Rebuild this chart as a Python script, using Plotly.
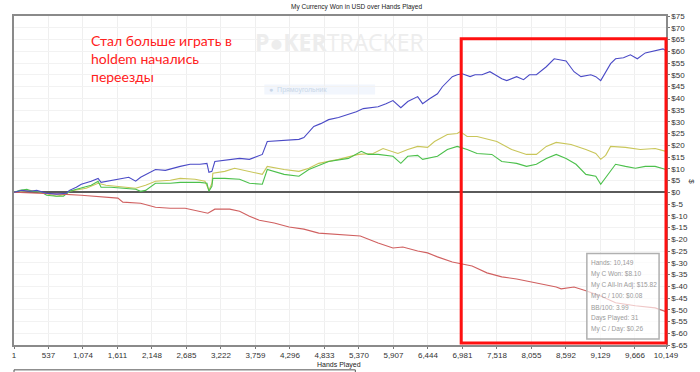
import plotly.graph_objects as go

# ---------------- data ----------------
blue_hands = [1, 124, 247, 355, 509, 663, 817, 863, 971, 1048, 1202, 1310, 1356, 1510, 1664, 1787, 1895, 1972,
              2203, 2357, 2588, 2742, 2896, 3004, 3035, 3081, 3127, 3358, 3512, 3666, 3866, 3943, 4128, 4436,
              4513, 4667, 4775, 4898, 5052, 5206, 5329, 5437, 5668, 5791, 5899, 6022, 6130, 6284, 6361, 6469,
              6592, 6669, 6746, 6823, 6900, 6977, 7100, 7177, 7285, 7408, 7516, 7593, 7670, 7824, 7932, 8024,
              8132, 8286, 8409, 8517, 8594, 8717, 8825, 8979, 9056, 9133, 9210, 9287, 9364, 9487, 9595, 9703,
              9826, 9980, 10103, 10149]
blue_won = [0, 0.8, 0.4, 0.8, -0.4, -0.8, -0.4, 0.8, 2.1, 3.4, 4.7, 5.9, 4.2, 5.1, 5.9, 6.4, 4.7, 6.4,
            9.7, 9.3, 11.0, 11.9, 11.9, 12.3, 8.5, 8.9, 13.1, 14.0, 14.4, 14.0, 16.1, 21.6, 22.0, 22.5,
            23.3, 28.0, 29.2, 30.9, 31.8, 33.1, 34.3, 35.6, 36.4, 37.7, 39.0, 36.0, 38.6, 40.7, 37.7, 39.8,
            41.9, 44.9, 47.0, 49.2, 50.0, 50.4, 49.2, 50.0, 50.0, 51.3, 49.6, 48.3, 47.5, 49.2, 47.9, 50.0,
            50.0, 53.4, 56.8, 56.4, 55.9, 51.3, 49.2, 50.0, 49.2, 47.5, 51.3, 54.7, 56.8, 57.2, 58.5, 56.8,
            59.3, 60.2, 61.0, 60.2]

yellow_hands = [1, 124, 247, 355, 509, 663, 817, 863, 1125, 1310, 1433, 1664, 1895, 2049, 2203, 2434, 2588,
                2819, 2973, 3035, 3081, 3096, 3281, 3435, 3666, 3866, 3943, 4205, 4436, 4590, 4744, 5052,
                5360, 5591, 5745, 5899, 5976, 6130, 6284, 6438, 6546, 6746, 6900, 6946, 7054, 7208, 7362,
                7516, 7747, 7978, 8132, 8286, 8440, 8671, 8902, 9056, 9133, 9210, 9287, 9518, 9749, 9980, 10149]
yellow_won = [0, 0.4, 0.8, 0.4, -0.8, -1.7, -0.8, 0.4, 1.7, 3.8, 3.0, 2.5, 1.7, 3.0, 4.7, 5.1, 5.9,
              5.5, 4.7, 0.8, 3.8, 8.1, 8.9, 10.2, 8.9, 7.6, 11.0, 9.7, 8.9, 10.2, 12.3, 14.0,
              16.1, 16.5, 18.6, 17.4, 16.5, 18.2, 19.5, 19.1, 21.6, 24.6, 25.0, 25.8, 23.7, 23.7, 22.5,
              21.6, 18.2, 16.1, 16.1, 19.5, 21.2, 20.3, 18.2, 16.5, 14.0, 15.7, 19.5, 19.1, 18.2, 18.6, 17.4]

green_hands = [1, 93, 201, 278, 432, 509, 663, 771, 863, 1048, 1202, 1310, 1356, 1510, 1664, 1895, 1972,
               2049, 2203, 2434, 2588, 2896, 3004, 3035, 3081, 3096, 3281, 3512, 3666, 3866, 3943, 4205,
               4436, 4590, 4898, 5206, 5406, 5514, 5668, 5899, 6022, 6130, 6284, 6361, 6592, 6746, 6900,
               6946, 7054, 7208, 7439, 7593, 7824, 7978, 8132, 8286, 8440, 8594, 8748, 8902, 9056, 9133,
               9287, 9364, 9518, 9672, 9826, 9980, 10149]
green_won = [0, 0.8, 1.3, 0.4, 0, -1.3, -1.7, -1.7, 0.4, 1.7, 3.0, 4.7, 2.1, 2.1, 1.7, 1.3, 0.4,
             0.8, 3.8, 3.8, 4.2, 4.2, 3.8, 0.4, 2.5, 5.9, 5.9, 5.5, 3.8, 3.4, 9.7, 7.6,
             6.8, 9.7, 13.1, 14.4, 17.4, 16.1, 16.1, 15.3, 12.3, 15.3, 15.7, 14.0, 15.3, 18.2, 19.5,
             19.1, 18.2, 16.5, 16.1, 13.1, 12.3, 11.0, 11.9, 14.4, 16.1, 14.4, 11.9, 7.6, 6.8, 3.4,
             8.9, 11.9, 11.0, 10.2, 11.0, 11.0, 9.7]

red_hands = [1, 432, 740, 1048, 1356, 1618, 1695, 1972, 2203, 2434, 2665, 2896, 3019, 3127, 3358, 3512,
             3666, 3820, 4051, 4282, 4513, 4744, 4975, 5206, 5391, 5668, 5899, 6053, 6284, 6438, 6592,
             6823, 6962, 7131, 7362, 7593, 7824, 8132, 8440, 8517, 8717, 8902, 9133, 9364, 9672, 9980, 10149]
red_won = [0, -0.4, -0.8, -1.3, -2.1, -2.5, -4.2, -4.7, -6.4, -6.8, -6.8, -8.1, -8.9, -7.2, -7.2, -8.1,
           -10.2, -11.9, -13.1, -14.8, -15.7, -17.4, -17.8, -18.2, -18.6, -21.6, -23.7, -23.3, -25.0, -25.8, -27.5,
           -29.7, -30.5, -31.4, -34.3, -36.0, -36.9, -38.6, -40.3, -41.1, -40.3, -41.9, -44.1, -47.0, -48.3, -49.2, -50.8]

x_tick_vals = [1, 537, 1074, 1611, 2148, 2685, 3222, 3759, 4296, 4833, 5370, 5907, 6444, 6981,
               7518, 8055, 8592, 9129, 9666, 10149]
x_tick_text = ["1", "537", "1,074", "1,611", "2,148", "2,685", "3,222", "3,759", "4,296", "4,833",
               "5,370", "5,907", "6,444", "6,981", "7,518", "8,055", "8,592", "9,129", "9,666", "10,149"]
y_tick_vals = list(range(-65, 80, 5))
y_tick_text = ["$" + str(v) for v in y_tick_vals]

stats_lines = ["Hands: 10,149", "My C Won: $8.10", "My C All-In Adj: $15.82", "My C / 100: $0.08",
               "BB/100: 3.99", "Days Played: 31", "My C / Day: $0.26"]
note_text = "Стал больше играть в<br>holdem начались<br>переезды"

# ---------------- layout helpers ----------------
W, H = 700, 372
L, R, T, B = 12, 29, 14, 27
PW, PH = W - L - R, H - T - B


def px(xp):
    return (xp - L) / PW


def py(yp):
    return (H - B - yp) / PH


fig = go.Figure()
series = [
    (yellow_hands, yellow_won, "#c9c65a"),
    (green_hands, green_won, "#4cc04c"),
    (red_hands, red_won, "#d06060"),
    (blue_hands, blue_won, "#4a4ac6"),
]
for xs, ys, col in series:
    fig.add_trace(go.Scatter(x=xs, y=ys, mode="lines", line=dict(color=col, width=1.1),
                             showlegend=False, hoverinfo="skip"))

fig.update_layout(
    width=W, height=H,
    margin=dict(l=L, r=R, t=T, b=B),
    paper_bgcolor="white", plot_bgcolor="white",
    font=dict(family="Liberation Sans, Arial, sans-serif", color="#333333", size=8),
    xaxis=dict(range=[1, 10149], tickvals=x_tick_vals, ticktext=x_tick_text,
               showgrid=True, gridcolor="#efefef", gridwidth=1,
               showline=True, linecolor="#8a8a8a", linewidth=1.5, mirror=True,
               ticks="outside", ticklen=2, tickcolor="#777777",
               tickfont=dict(size=8, color="#333333"), zeroline=False),
    yaxis=dict(range=[-65, 75], side="right", tickvals=y_tick_vals, ticktext=y_tick_text,
               showgrid=True, gridcolor="#f2f2f2", gridwidth=1,
               showline=True, linecolor="#8a8a8a", linewidth=1.5, mirror=True,
               ticks="outside", ticklen=2, tickcolor="#777777",
               tickfont=dict(size=8, color="#333333"),
               zeroline=True, zerolinecolor="#5a5a5a", zerolinewidth=1.5),
)

annotations = [
    dict(text="My Currency Won in USD over Hands Played", x=px(358), y=py(5), xref="paper", yref="paper",
         showarrow=False, font=dict(size=6.5, color="#222222"), xanchor="center", yanchor="middle"),
    dict(text="Hands Played", x=px(340), y=py(365), xref="paper", yref="paper",
         showarrow=False, font=dict(size=7, color="#222222"), xanchor="center", yanchor="middle"),
    dict(text="$", x=px(696), y=py(181), xref="paper", yref="paper", textangle=90,
         showarrow=False, font=dict(size=8, color="#333333"), xanchor="center", yanchor="middle"),
    dict(text="<b>P●KER</b>TRACKER", x=px(341), y=py(40), xref="paper", yref="paper",
         showarrow=False, font=dict(size=23, color="#ededed", family="Open Sans, sans-serif"),
         xanchor="center", yanchor="middle"),
    dict(text="●  Прямоугольник", x=px(268), y=py(88), xref="paper", yref="paper",
         showarrow=False, font=dict(size=7, color="#c9d6e8"), xanchor="left", yanchor="middle"),
    dict(text=note_text, x=px(88), y=py(57), xref="paper", yref="paper", align="left",
         showarrow=False, font=dict(size=14, color="#ff2020", family="Lato, sans-serif"),
         xanchor="left", yanchor="middle"),
]
for i, s in enumerate(stats_lines):
    annotations.append(dict(text=s, x=px(593), y=py(262 + i * 11.2), xref="paper", yref="paper",
                            showarrow=False, font=dict(size=6.5, color="#9a9a9a"),
                            xanchor="left", yanchor="middle"))
fig.update_layout(annotations=annotations)

shapes = [
    # faint selection label box
    dict(type="rect", xref="paper", yref="paper", x0=px(265), x1=px(377), y0=py(93), y1=py(83),
         fillcolor="#f2f6fd", line=dict(width=0), layer="below"),
    # stats box
    dict(type="rect", xref="paper", yref="paper", x0=px(591), x1=px(664), y0=py(339), y1=py(253),
         fillcolor="rgba(255,255,255,0.65)", line=dict(color="#b0b0b0", width=1.5), layer="above"),
    # red highlight rectangle
    dict(type="rect", xref="paper", yref="paper", x0=px(464), x1=px(671), y0=py(343), y1=py(37),
         fillcolor="rgba(0,0,0,0)", line=dict(color="#ff1010", width=3), layer="above"),
    # fragment of a panel border below the chart
    dict(type="line", xref="paper", yref="paper", x0=px(12), x1=px(357), y0=py(370), y1=py(370),
         line=dict(color="#555555", width=1)),
    dict(type="line", xref="paper", yref="paper", x0=px(357), x1=px(357), y0=py(370), y1=py(373),
         line=dict(color="#555555", width=1)),
    dict(type="line", xref="paper", yref="paper", x0=px(12), x1=px(12), y0=py(370), y1=py(373),
         line=dict(color="#555555", width=1)),
]
fig.update_layout(shapes=shapes)

fig.write_html("out.html", config={"displayModeBar": False},
               post_script="document.body.style.margin='0';document.body.style.overflow='hidden';")
